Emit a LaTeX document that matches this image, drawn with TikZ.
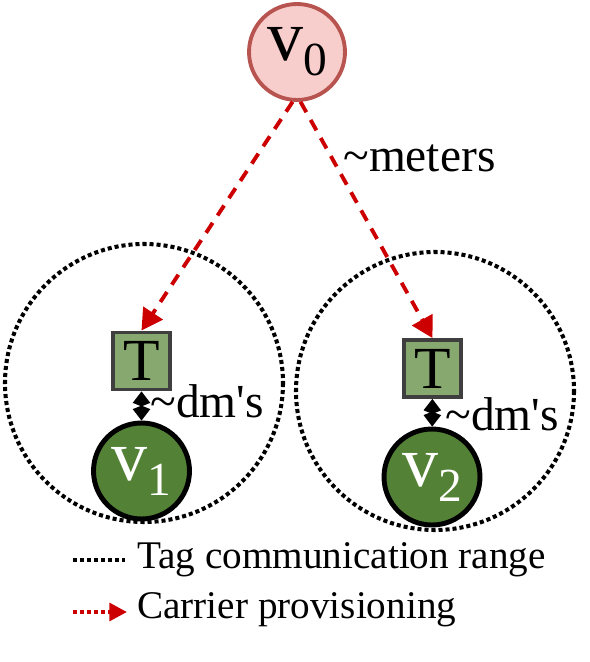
\documentclass[tikz,border=0pt]{standalone}
\usepackage{fontspec}
\setmainfont{Liberation Serif}
\usetikzlibrary{arrows.meta}
\definecolor{readerfill}{HTML}{F8CECC}
\definecolor{readerline}{HTML}{B85450}
\definecolor{tagfill}{HTML}{87A96F}
\definecolor{tagline}{HTML}{3F3F3F}
\definecolor{nodefill}{HTML}{538135}
\definecolor{carrierred}{HTML}{CC0000}
\newcommand{\vlabel}[1]{\fontsize{41pt}{41pt}\selectfont v\raisebox{-8.5pt}{\fontsize{27pt}{27pt}\selectfont #1}}
\tikzset{
  reader/.style={circle, draw=readerline, fill=readerfill, line width=2.2pt, minimum size=1.92cm, inner sep=0pt},
  tagbox/.style={rectangle, draw=tagline, fill=tagfill, line width=2.2pt, minimum size=1.14cm, inner sep=0pt,
    font=\fontsize{34pt}{34pt}\selectfont},
  vnode/.style={circle, draw=black, fill=nodefill, line width=2.8pt, minimum size=1.92cm, inner sep=0pt, text=white},
  rangeline/.style={black, line width=2.3pt, dash pattern=on 2.3pt off 1.7pt},
  carrier/.style={carrierred, line width=2.2pt, dash pattern=on 6.8pt off 5pt, -{Triangle[length=12pt,width=13pt]}},
  link/.style={black, line width=2pt, {Kite[length=8.5pt,width=10pt,inset=2pt]}-{Kite[length=8.5pt,width=10pt,inset=2pt]}},
  lbl/.style={inner sep=0pt, anchor=base west, font=\fontsize{27pt}{27pt}\selectfont},
  legend/.style={inner sep=0pt, anchor=base west, font=\fontsize{22.3pt}{22.3pt}\selectfont}
}
\begin{document}
\begin{tikzpicture}[x=0.02cm, y=-0.02cm]
  \useasboundingbox (0,0) rectangle (590,662);

  \draw[rangeline] (144,383) circle[radius=139]; % left tag range
  \draw[rangeline] (435,391) circle[radius=139]; % right tag range

  \node[reader] (v0) at (297,52) {\vlabel{0}};
  \node[tagbox] (t1) at (141.5,361) {T};
  \node[tagbox] (t2) at (432.5,368.5) {T};
  \node[vnode] (v1) at (141.5,471) {\vlabel{1}};
  \node[vnode] (v2) at (432,477) {\vlabel{2}};

  \draw[carrier] (v0.-95) -- (t1.north);
  \draw[carrier] (v0.-86) -- (t2.north);
  \draw[link] (t1) -- (v1);
  \draw[link] (t2) -- (v2);

  \node[lbl] (meters) at (343,172) {\textasciitilde meters};
  \node[lbl] (dm1) at (150,417) {\textasciitilde dm\textquotesingle s};
  \node[lbl] (dm2) at (445,430) {\textasciitilde dm\textquotesingle s};

  % legend
  \coordinate (ra) at (73,560);
  \coordinate (rb) at (125,560);
  \coordinate (ca) at (73,612);
  \coordinate (cb) at (127,612);
  \draw[rangeline] (ra) -- (rb);
  \draw[carrierred, line width=2.3pt, dash pattern=on 2.3pt off 1.7pt, -{Triangle[length=10pt,width=10pt]}] (ca) -- (cb);
  \node[legend] (rangetext) at (137,568) {Tag communication range};
  \node[legend] (carriertext) at (137,618) {Carrier provisioning};
\end{tikzpicture}
\end{document}
